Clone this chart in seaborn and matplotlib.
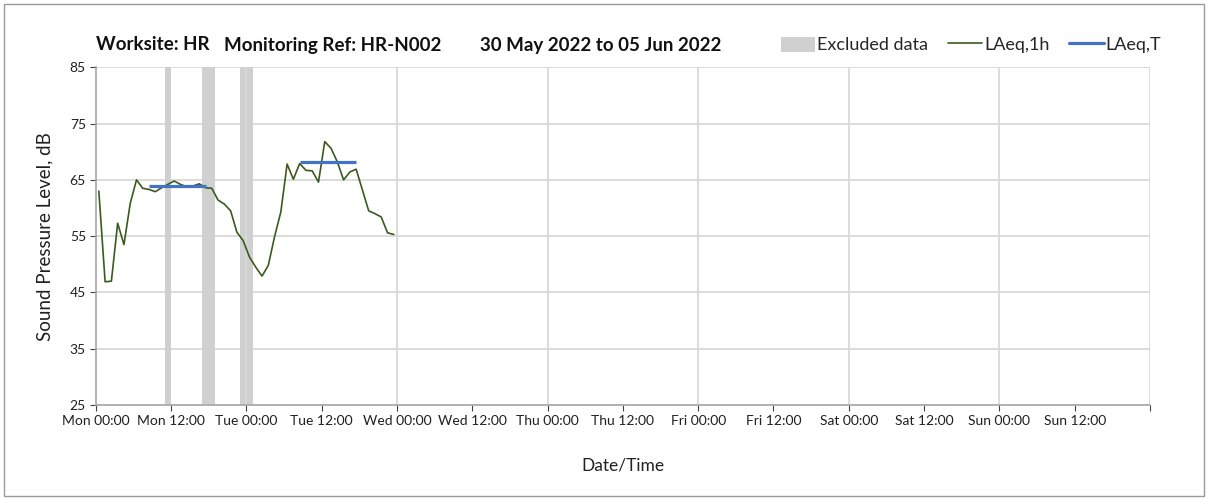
import matplotlib
matplotlib.use("Agg")
import matplotlib.pyplot as plt
import seaborn as sns
import pandas as pd
from matplotlib.patches import Patch, Rectangle
from matplotlib.lines import Line2D

# Hourly LAeq,1h values, one per hour starting Mon 00:00
laeq_1h = [63.0, 46.9, 47.0, 57.3, 53.5, 60.8, 65.0, 63.5, 63.3, 62.9, 63.6, 64.2,
           64.8, 64.2, 63.8, 63.9, 64.3, 63.6, 63.5, 61.4, 60.7, 59.5, 55.7, 54.2,
           51.3, 49.5, 47.9, 49.8, 54.9, 59.3, 67.8, 65.1, 67.9, 66.7, 66.6, 64.6,
           71.8, 70.6, 68.2, 65.0, 66.4, 66.9, 63.2, 59.5, 59.0, 58.4, 55.6, 55.3]

# Period LAeq,T: (first hour, last hour, level)
laeq_t_periods = [(8, 17, 63.9), (32, 41, 68.1)]

# Excluded data windows in hours from Mon 00:00
excluded_windows = [(11, 12), (17, 19), (23, 25)]

tick_labels = ["Mon 00:00", "Mon 12:00", "Tue 00:00", "Tue 12:00", "Wed 00:00",
               "Wed 12:00", "Thu 00:00", "Thu 12:00", "Fri 00:00", "Fri 12:00",
               "Sat 00:00", "Sat 12:00", "Sun 00:00", "Sun 12:00"]

title_parts = ["Worksite: HR", "Monitoring Ref: HR-N002", "30 May 2022 to 05 Jun 2022"]

sns.set_theme(style="white")
plt.rcParams["font.family"] = ["Lato", "DejaVu Sans"]

W, H = 1208, 499
fig = plt.figure(figsize=(W / 100, H / 100), dpi=100)
ax = fig.add_axes([95.7 / W, 1 - 405 / H, (1150 - 95.7) / W, (405 - 67.3) / H])

green = "#3b5a1e"
blue = "#4472c4"
grey = "#d0d0d0"

df = pd.DataFrame({"hour": [i + 0.5 for i in range(len(laeq_1h))], "level": laeq_1h})

# Excluded spans
for a, b in excluded_windows:
    ax.axvspan(a, b, color=grey, lw=0, zorder=1)

# Gridlines
for y in range(25, 86, 10):
    ax.axhline(y, color="#d9d9d9", lw=1.3, zorder=0.5)
for d in range(1, 8):
    ax.axvline(24 * d, color="#d9d9d9", lw=1.3, zorder=1.5)

sns.lineplot(data=df, x="hour", y="level", ax=ax, color=green, lw=1.2, zorder=3)

for a, b, v in laeq_t_periods:
    tdf = pd.DataFrame({"hour": [a + 0.5, b + 0.5], "level": [v, v]})
    sns.lineplot(data=tdf, x="hour", y="level", ax=ax, color=blue, lw=2.3,
                 zorder=4, solid_capstyle="butt")

ax.set_xlim(0, 168)
ax.set_ylim(25, 85)
ax.set_yticks(range(25, 86, 10))
ax.set_xticks(range(0, 169, 12))
ax.set_xticklabels(tick_labels + [""])
ax.tick_params(axis="both", labelsize=10, colors="#404040", length=4, width=0.8,
               direction="out", pad=3)
ax.tick_params(axis="both", labelcolor="#202020")
ax.xaxis.set_ticks_position("bottom")
ax.yaxis.set_ticks_position("left")
for s in ["top", "right"]:
    ax.spines[s].set_visible(False)
for s in ["left", "bottom"]:
    ax.spines[s].set_color("#a6a6a6")
    ax.spines[s].set_linewidth(1.2)

ax.set_xlabel("Date/Time", fontsize=12.5, color="#202020", labelpad=22)
ax.set_ylabel("Sound Pressure Level, dB", fontsize=13.5, color="#202020", labelpad=12)

# Header line: three bold pieces
title_x = [96, 224, 480]
for x, t in zip(title_x, title_parts):
    fig.text(x / W, 1 - 45 / H, t, fontsize=13.5, fontweight="bold",
             color="#111111", va="center", ha="left")

handles = [Patch(facecolor=grey, edgecolor="none"),
           Line2D([], [], color=green, lw=1.2),
           Line2D([], [], color=blue, lw=2.3)]
fig.legend(handles, ["Excluded data", "LAeq,1h", "LAeq,T"], ncol=3,
           loc="center right", bbox_to_anchor=(1170 / W, 1 - 45 / H),
           frameon=False, fontsize=13, handlelength=1.9, handletextpad=0.1,
           columnspacing=1.1, borderpad=0, handleheight=0.9)

fig.add_artist(Rectangle((4 / W, 3 / H), 1200 / W, 492 / H, transform=fig.transFigure,
                         fill=False, ec="#9a9a9a", lw=1))

fig.savefig("out.png", dpi=100)
